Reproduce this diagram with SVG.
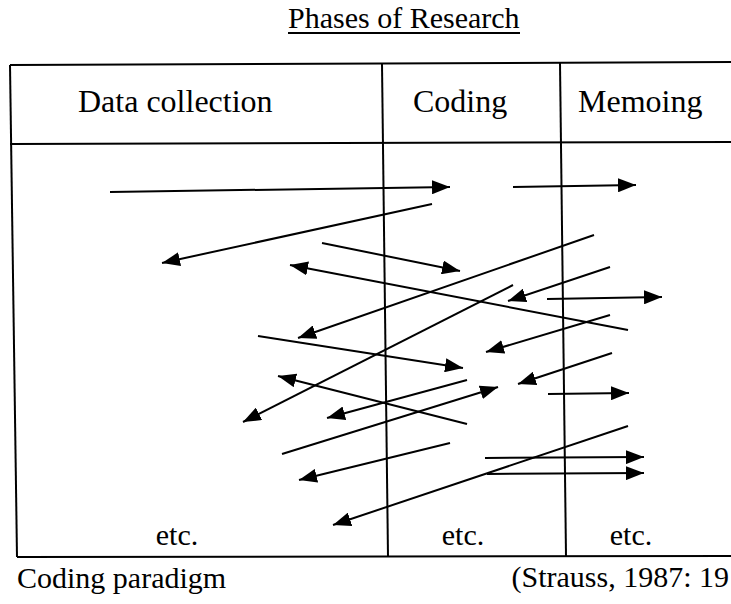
<svg xmlns="http://www.w3.org/2000/svg" width="731" height="604" viewBox="0 0 731 604">
<style>
text{font-family:"Liberation Serif","Times New Roman",serif;fill:#000;font-size:30px}
.hd{font-size:32px}
.ln{stroke:#000;stroke-width:2;fill:none}
.ar{stroke:#000;stroke-width:2;fill:none;marker-end:url(#ah)}
</style>
<defs>
<marker id="ah" markerUnits="userSpaceOnUse" markerWidth="20" markerHeight="14" refX="18" refY="7" orient="auto">
<path d="M0,0 L18,7 L0,14 Z" fill="#000"/>
</marker>
</defs>
<rect width="731" height="604" fill="#fff"/>
<g id="title">
<text x="288" y="28">Phases of Research</text>
<line class="ln" x1="288" y1="33" x2="520" y2="33" stroke-width="1.5"/>
</g>
<g id="table">
<line class="ln" x1="10" y1="65" x2="731" y2="62"/>
<line class="ln" x1="10" y1="144" x2="731" y2="142"/>
<line class="ln" x1="17" y1="557" x2="731" y2="556"/>
<line class="ln" x1="10" y1="65" x2="17" y2="557"/>
<line class="ln" x1="382" y1="64" x2="388" y2="557"/>
<line class="ln" x1="560" y1="63" x2="566" y2="556"/>
</g>
<g id="col-data"><text class="hd" x="78" y="112">Data collection</text><text x="177" y="545" text-anchor="middle">etc.</text></g>
<g id="col-coding"><text class="hd" x="413" y="112">Coding</text><text x="463" y="545" text-anchor="middle">etc.</text></g>
<g id="col-memoing"><text class="hd" x="578" y="112">Memoing</text><text x="631" y="545" text-anchor="middle">etc.</text></g>
<g id="connectors">
<line class="ar" x1="110" y1="192" x2="450" y2="187"/>
<line class="ar" x1="513" y1="187" x2="636" y2="185"/>
<line class="ar" x1="432" y1="204" x2="162" y2="263"/>
<line class="ar" x1="322" y1="243" x2="460" y2="271"/>
<line class="ar" x1="628" y1="330" x2="290" y2="265"/>
<line class="ar" x1="594" y1="235" x2="298" y2="338"/>
<line class="ar" x1="610" y1="267" x2="508" y2="301"/>
<line class="ar" x1="547" y1="299" x2="662" y2="297"/>
<line class="ar" x1="258" y1="336" x2="463" y2="368"/>
<line class="ar" x1="513" y1="285" x2="243" y2="422"/>
<line class="ar" x1="610" y1="315" x2="486" y2="352"/>
<line class="ar" x1="612" y1="353" x2="518" y2="384"/>
<line class="ar" x1="548" y1="394" x2="629" y2="393"/>
<line class="ar" x1="282" y1="454" x2="498" y2="387"/>
<line class="ar" x1="467" y1="424" x2="278" y2="376"/>
<line class="ar" x1="467" y1="380" x2="327" y2="418"/>
<line class="ar" x1="450" y1="443" x2="299" y2="480"/>
<line class="ar" x1="628" y1="426" x2="333" y2="525"/>
<line class="ar" x1="485" y1="458" x2="644" y2="457"/>
<line class="ar" x1="487" y1="474" x2="644" y2="473"/>
</g>
<g id="caption">
<text x="17" y="588">Coding paradigm</text>
<text x="729" y="587" text-anchor="end" font-size="29">(Strauss, 1987: 19</text>
</g>
</svg>
